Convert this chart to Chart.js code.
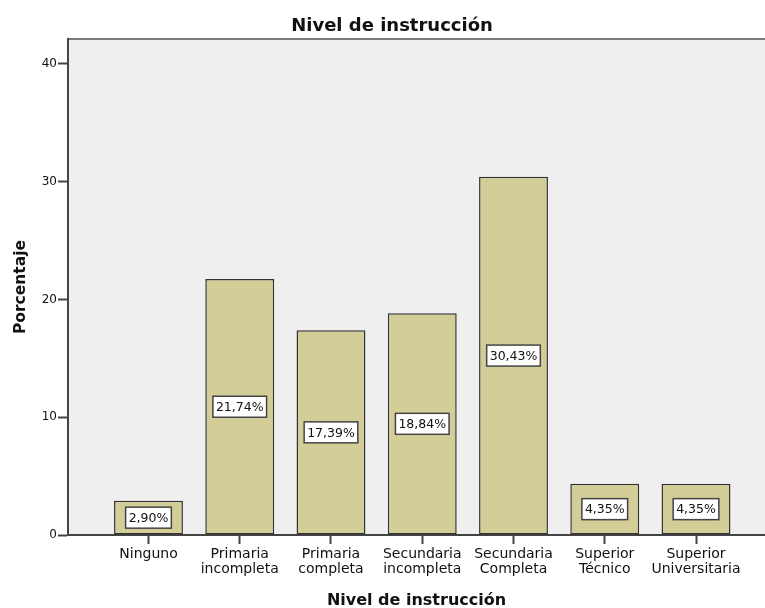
<!DOCTYPE html>
<html lang="es">
<head>
    <meta charset="UTF-8">
    <title>Nivel de instrucción</title>
    <script src="https://cdn.jsdelivr.net/npm/chart.js"></script>
    <style>
        html, body { margin: 0; padding: 0; background: #fff; }
        .chart-box { width: 765px; height: 608px; position: relative; }
    </style>
</head>
<body>

<div class="chart-box">
    <canvas id="nivelChart"></canvas>
</div>

<script>
    // datos
    const categorias = [
        ['Ninguno'],
        ['Primaria', 'incompleta'],
        ['Primaria', 'completa'],
        ['Secundaria', 'incompleta'],
        ['Secundaria', 'Completa'],
        ['Superior', 'Técnico'],
        ['Superior', 'Universitaria']
    ];
    const porcentajes = [2.90, 21.74, 17.39, 18.84, 30.43, 4.35, 4.35];
    const ticksY = [0, 10, 20, 30, 40];

    const titulo = 'Nivel de instrucción';
    const tituloX = 'Nivel de instrucción';
    const tituloY = 'Porcentaje';

    const fuente = "'DejaVu Sans', sans-serif";

    // fondo gris del area y linea superior
    const fondoPlot = {
        id: 'fondoPlot',
        beforeDraw(chart) {
            const { ctx, chartArea: a } = chart;
            ctx.save();
            ctx.fillStyle = '#efefef';
            ctx.fillRect(a.left, a.top, a.right - a.left, a.bottom - a.top);
            ctx.strokeStyle = '#7a7a7a';
            ctx.lineWidth = 2;
            ctx.beginPath();
            ctx.moveTo(a.left, a.top);
            ctx.lineTo(a.right, a.top);
            ctx.stroke();
            ctx.restore();
        },
        afterDraw(chart) {
            const ctx = chart.ctx;
            ctx.save();
            ctx.font = 'bold 18px ' + fuente;
            ctx.fillStyle = '#111';
            ctx.textAlign = 'center';
            ctx.textBaseline = 'middle';
            ctx.fillText(titulo, 392, 26);
            ctx.restore();
        }
    };

    // etiquetas con recuadro blanco en el medio de cada barra
    const etiquetas = {
        id: 'etiquetas',
        afterDatasetsDraw(chart) {
            const ctx = chart.ctx;
            const meta = chart.getDatasetMeta(0);
            ctx.save();
            ctx.font = '12.5px ' + fuente;
            ctx.textAlign = 'center';
            ctx.textBaseline = 'middle';
            meta.data.forEach((bar, i) => {
                const txt = porcentajes[i].toFixed(2).replace('.', ',') + '%';
                const w = ctx.measureText(txt).width + 6;
                const h = 21;
                const cx = bar.x;
                const cy = (bar.y + bar.base) / 2;
                ctx.fillStyle = '#fff';
                ctx.fillRect(cx - w / 2, cy - h / 2, w, h);
                ctx.strokeStyle = '#444';
                ctx.lineWidth = 1.5;
                ctx.strokeRect(cx - w / 2, cy - h / 2, w, h);
                ctx.fillStyle = '#111';
                ctx.fillText(txt, cx, cy + 1);
            });
            ctx.restore();
        }
    };

    const ctx = document.getElementById('nivelChart').getContext('2d');
    const nivelChart = new Chart(ctx, {
        type: 'bar',
        data: {
            datasets: [{
                label: tituloY,
                data: porcentajes.map((v, i) => ({ x: i, y: v })),
                backgroundColor: '#d3ce97',
                borderColor: '#333',
                borderWidth: 1.5,
                borderSkipped: false,
                barPercentage: 0.755,
                categoryPercentage: 1
            }]
        },
        options: {
            responsive: true,
            maintainAspectRatio: false,
            animation: false,
            layout: { padding: { top: 39, left: 0, right: 0, bottom: 0 } },
            plugins: {
                legend: { display: false },
                tooltip: { enabled: false },
                title: { display: false }
            },
            scales: {
                x: {
                    type: 'linear',
                    offset: false,
                    min: -0.882,
                    max: 6.756,
                    afterBuildTicks: axis => {
                        axis.ticks = categorias.map((_, i) => ({ value: i }));
                    },
                    afterFit: scale => { scale.height = 73; },
                    grid: {
                        offset: false,
                        drawOnChartArea: false,
                        drawTicks: true,
                        tickLength: 9,
                        tickColor: '#444',
                        tickWidth: 2
                    },
                    border: { color: '#444', width: 2 },
                    ticks: {
                        autoSkip: false,
                        maxRotation: 0,
                        padding: 3,
                        color: '#111',
                        font: { family: fuente, size: 14, lineHeight: 1.07 },
                        callback: value => categorias[value]
                    },
                    title: {
                        display: true,
                        text: tituloX,
                        color: '#111',
                        font: { family: fuente, size: 16, weight: 'bold' },
                        padding: { top: 0, bottom: -2 }
                    }
                },
                y: {
                    min: 0,
                    max: 42.12,
                    afterBuildTicks: axis => {
                        axis.ticks = ticksY.map(v => ({ value: v }));
                    },
                    afterFit: scale => { scale.width = 68; },
                    grid: {
                        drawOnChartArea: false,
                        drawTicks: true,
                        tickLength: 10,
                        tickColor: '#444',
                        tickWidth: 2
                    },
                    border: { color: '#444', width: 2 },
                    ticks: {
                        padding: 1,
                        color: '#111',
                        font: { family: fuente, size: 12 }
                    },
                    title: {
                        display: true,
                        text: tituloY,
                        color: '#111',
                        font: { family: fuente, size: 15.5, weight: 'bold' },
                        padding: { top: 12, bottom: 0 }
                    }
                }
            }
        },
        plugins: [fondoPlot, etiquetas]
    });
</script>

</body>
</html>
